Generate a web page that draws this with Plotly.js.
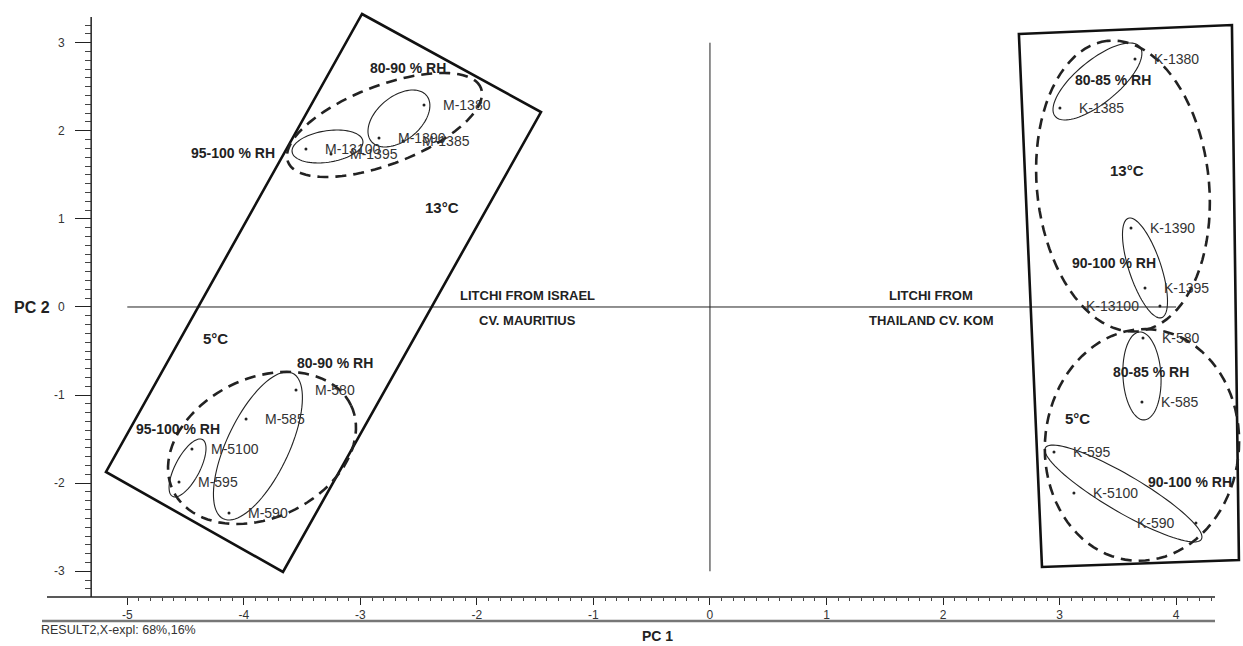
<!DOCTYPE html>
<html><head><meta charset="utf-8">
<script src="https://cdn.plot.ly/plotly-3.0.1.min.js"></script>
<style>html,body{margin:0;padding:0;background:#fff;} #chart{width:1243px;height:646px;}</style>
</head><body><div id="chart"></div>
<script>
// ---- data: PCA scores ----
const sampleNames = ["M-1380","M-1390","M-1385","M-13100","M-1395",
  "M-580","M-585","M-5100","M-595","M-590",
  "K-1380","K-1385","K-1390","K-1395","K-13100",
  "K-580","K-585","K-595","K-5100","K-590"];
const pc1 = [-2.454,-2.840,-2.634,-3.467,-3.252,
  -3.552,-3.981,-4.445,-4.556,-4.127,
  3.647,3.003,3.613,3.733,3.861,
  3.716,3.707,2.952,3.123,4.170];
const pc2 = [2.293,1.918,1.884,1.793,1.737,
  -0.942,-1.271,-1.612,-1.986,-2.338,
  2.815,2.259,0.897,0.216,0.01,
  -0.352,-1.078,-1.646,-2.111,-2.452];
const labelSide = ["r","r","r","r","r","r","r","r","r","r",
  "r","r","r","r","l","r","r","r","r","l"];

// axis ticks
const xTickVals = [-5,-4,-3,-2,-1,0,1,2,3,4];
const xTickText = ["-5","-4","-3","-2","-1","0","1","2","3","4"];
const yTickVals = [-3,-2,-1,0,1,2,3];
const yTickText = ["-3","-2","-1","0","1","2","3"];

// group outlines (rotated rectangles) - corners in score units
const rectIsraelX = [-2.986,-1.450,-3.664,-5.183];
const rectIsraelY = [3.326,2.213,-3.008,-1.873];
const rectThaiX = [2.651,4.479,4.539,2.849];
const rectThaiY = [3.099,3.201,-2.872,-2.951];

// ellipses: centre (score units), semi-axes (px), angle (deg)
const ellCx = [-3.282,-2.669,-2.793,-4.483,-3.879,-3.844,3.325,3.544,3.733,3.707,3.707,3.548];
const ellCy = [1.822,2.140,2.066,-1.827,-1.578,-1.600,2.560,1.373,0.443,-0.783,-1.566,-2.117];
const ellA  = [35.8,35.9,103.3,32.1,80.6,98.7,54.8,146,52.4,44,116,90.4];
const ellB  = [15.7,21.9,39.3,12.3,31,69.8,21.3,86,16,19,97,18.5];
const ellAng= [8.8,39.7,20.9,62.3,64.6,25.6,39.4,96,108.5,93,85,-30.4];
const ellDashed = [false,false,true,false,false,true,false,true,false,false,true,false];

// group labels
const groupText = ["80-90 % RH","95-100 % RH","13°C","5°C","LITCHI FROM ISRAEL","CV. MAURITIUS",
  "LITCHI FROM","THAILAND CV. KOM","80-90 % RH","95-100 % RH","80-85 % RH","13°C",
  "90-100 % RH","80-85 % RH","5°C","90-100 % RH"];
const groupX = [-2.591,-4.093,-2.300,-4.239,-1.570,-1.570,1.896,1.896,-3.218,-4.565,3.458,3.578,3.467,3.784,3.158,4.119];
const groupY = [2.713,1.748,1.124,-0.352,0.125,-0.148,0.125,-0.148,-0.636,-1.385,2.577,1.555,0.499,-0.738,-1.271,-1.986];

// ---- layout geometry ----
const W=1243,H=646, ML=40, MR=0, MT=8, MB=49;
const xRange=[-5.749,4.574], yRange=[-3.292,3.394];
const PW=W-ML-MR, PH=H-MT-MB;
const kx=PW/(xRange[1]-xRange[0]), ky=PH/(yRange[1]-yRange[0]);
const px2paperX = px => (px-ML)/PW;
const py2paperY = py => (H-MB-py)/PH;
const yAxisAt = -5.31;
const FONT = "Liberation Sans, Arial, sans-serif";

const shapes = [];
// axis lines
shapes.push({type:'line',xref:'paper',yref:'paper',x0:px2paperX(47),x1:px2paperX(1215),y0:0,y1:0,line:{color:'#222',width:1.5}});
shapes.push({type:'line',xref:'paper',yref:'paper',x0:(yAxisAt-xRange[0])/(xRange[1]-xRange[0]),x1:(yAxisAt-xRange[0])/(xRange[1]-xRange[0]),y0:0,y1:py2paperY(17),line:{color:'#222',width:1.5}});
shapes.push({type:'line',xref:'paper',yref:'paper',x0:px2paperX(42),x1:px2paperX(1215),y0:py2paperY(621),y1:py2paperY(621),line:{color:'#777',width:2.5}});
// centre cross
shapes.push({type:'line',xref:'x',yref:'y',x0:-5,x1:4,y0:0,y1:0,line:{color:'#222',width:1}});
shapes.push({type:'line',xref:'x',yref:'y',x0:0,x1:0,y0:-3,y1:3,line:{color:'#222',width:1}});
// rectangles
function polyPath(xs,ys){let p='M'+xs[0]+','+ys[0];for(let i=1;i<xs.length;i++)p+=' L'+xs[i]+','+ys[i];return p+' Z';}
shapes.push({type:'path',xref:'x',yref:'y',path:polyPath(rectIsraelX,rectIsraelY),line:{color:'#111',width:2.6}});
shapes.push({type:'path',xref:'x',yref:'y',path:polyPath(rectThaiX,rectThaiY),line:{color:'#111',width:2.6}});
// ellipses
for(let i=0;i<ellCx.length;i++){
  const th=ellAng[i]*Math.PI/180, xs=[], ys=[];
  for(let k=0;k<=90;k++){
    const t=2*Math.PI*k/90;
    const dx=ellA[i]*Math.cos(t)*Math.cos(th)-ellB[i]*Math.sin(t)*Math.sin(th);
    const dy=ellA[i]*Math.cos(t)*Math.sin(th)+ellB[i]*Math.sin(t)*Math.cos(th);
    xs.push((ellCx[i]+dx/kx).toFixed(4)); ys.push((ellCy[i]+dy/ky).toFixed(4));
  }
  shapes.push({type:'path',xref:'x',yref:'y',path:polyPath(xs,ys),
    line: ellDashed[i]?{color:'#222',width:2.6,dash:'11px,7px'}:{color:'#222',width:1.1}});
}

const annotations = [];
for(let i=0;i<sampleNames.length;i++){
  const r = labelSide[i]==='r';
  annotations.push({x:pc1[i],y:pc2[i],xref:'x',yref:'y',text:sampleNames[i],showarrow:false,
    xanchor:r?'left':'right',yanchor:'middle',xshift:r?17:-19,
    font:{family:FONT,size:14,color:'#333'}});
}
for(let i=0;i<groupText.length;i++){
  const big = groupText[i].indexOf('°C')>=0;
  const litchi = groupText[i].indexOf('LITCHI')>=0 || groupText[i].indexOf('CV.')>=0;
  annotations.push({x:groupX[i],y:groupY[i],xref:'x',yref:'y',text:'<b>'+groupText[i]+'</b>',showarrow:false,
    xanchor:'center',yanchor:'middle',font:{family:FONT,size:big?15:(litchi?13:14),color:'#222'}});
}
annotations.push({xref:'paper',yref:'paper',x:px2paperX(32),y:py2paperY(308),text:'<b>PC 2</b>',showarrow:false,xanchor:'center',yanchor:'middle',font:{family:FONT,size:16,color:'#222'}});
annotations.push({xref:'paper',yref:'paper',x:px2paperX(657),y:py2paperY(636),text:'<b>PC 1</b>',showarrow:false,xanchor:'center',yanchor:'middle',font:{family:FONT,size:14,color:'#222'}});
annotations.push({xref:'paper',yref:'paper',x:px2paperX(39),y:py2paperY(630),text:'RESULT2,X-expl: 68%,16%',showarrow:false,xanchor:'left',yanchor:'middle',font:{family:FONT,size:12.5,color:'#333'}});

const minorX=[]; for(let v=-50; v<=43; v++){ if(v%10!==0) minorX.push(v/10); }
const minorY=[]; for(let v=-32; v<=32; v++){ if(v%10!==0) minorY.push(v/10); }

const trace = {type:'scatter',mode:'markers',x:pc1,y:pc2,text:sampleNames,hoverinfo:'text',
  marker:{size:3,color:'#222'},cliponaxis:false,showlegend:false};

const layout = {
  width:W,height:H,margin:{l:ML,r:MR,t:MT,b:MB,pad:0},
  paper_bgcolor:'#fff',plot_bgcolor:'#fff',showlegend:false,
  font:{family:FONT,size:12,color:'#333'},
  xaxis:{range:xRange,showgrid:false,zeroline:false,showline:false,
    tickmode:'array',tickvals:xTickVals,ticktext:xTickText,ticks:'outside',ticklen:7,tickwidth:1,tickcolor:'#222',
    tickfont:{family:FONT,size:12,color:'#333'},
    minor:{tickmode:'array',tickvals:minorX,ticks:'outside',ticklen:3,tickwidth:1,tickcolor:'#444',showgrid:false}},
  yaxis:{range:yRange,anchor:'free',position:(yAxisAt-xRange[0])/(xRange[1]-xRange[0]),side:'left',
    showgrid:false,zeroline:false,showline:false,
    tickmode:'array',tickvals:yTickVals,ticktext:yTickText,ticks:'outside',ticklen:16,tickwidth:1,tickcolor:'#222',
    ticklabelstandoff:8,tickfont:{family:FONT,size:12,color:'#333'},
    minor:{tickmode:'array',tickvals:minorY,ticks:'outside',ticklen:6,tickwidth:1,tickcolor:'#444',showgrid:false}},
  shapes:shapes, annotations:annotations
};
Plotly.newPlot('chart',[trace],layout,{displayModeBar:false,staticPlot:true});
</script></body></html>
